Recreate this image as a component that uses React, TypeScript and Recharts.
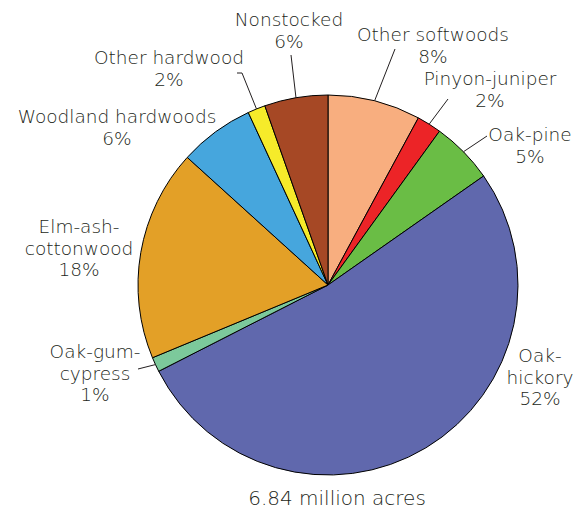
import React from "react"
import { PieChart, Pie, Cell } from "recharts"

// forest-type groups, clockwise from 12 o'clock
const groups = [
    "Other softwoods",
    "Pinyon-juniper",
    "Oak-pine",
    "Oak-hickory",
    "Oak-gum-cypress",
    "Elm-ash-cottonwood",
    "Woodland hardwoods",
    "Other hardwood",
    "Nonstocked",
]
const shares = [7.9, 2.1, 5.3, 52.3, 1.25, 18.0, 6.4, 1.5, 5.4]
const shareLabels = ["8%", "2%", "5%", "52%", "1%", "18%", "6%", "2%", "6%"]
const labelLines = [
    ["Other softwoods"],
    ["Pinyon-juniper"],
    ["Oak-pine"],
    ["Oak-", "hickory"],
    ["Oak-gum-", "cypress"],
    ["Elm-ash-", "cottonwood"],
    ["Woodland hardwoods"],
    ["Other hardwood"],
    ["Nonstocked"],
]
const colors = ["#F8AE7F", "#EC2427", "#6ABD45", "#6068AD", "#7CC99B", "#E3A027", "#46A6DD", "#F6EB2A", "#A64825"]
const totalLabel = "6.84 million acres"

// where each label sits (text centre, first baseline) and where its leader ends
const labelLayout: { x: number; y: number; leader?: [number, number][] }[] = [
    { x: 433, y: 41, leader: [[395, 49]] },
    { x: 490, y: 85, leader: [[448, 99]] },
    { x: 530, y: 141, leader: [[487, 136]] },
    { x: 540, y: 362 },
    { x: 95, y: 358, leader: [[138, 369]] },
    { x: 79, y: 233 },
    { x: 117, y: 123 },
    { x: 169, y: 64, leader: [[242, 73], [237, 73]] },
    { x: 289, y: 26, leader: [[291, 55]] },
]

const data = groups.map((name, i) => ({ name, value: shares[i] }))

const FONT = "'DejaVu Sans', sans-serif"
const TEXT = "#231F20"
const LINE_H = 21.5
const RAD = Math.PI / 180

const renderLabel = (props: any) => {
    const { cx, cy, midAngle, outerRadius, index } = props
    const layout = labelLayout[index]
    const lines = [...labelLines[index], shareLabels[index]]
    let leader = null
    if (layout.leader) {
        const sx = cx + outerRadius * Math.cos(-midAngle * RAD)
        const sy = cy + outerRadius * Math.sin(-midAngle * RAD)
        const pts = [[sx, sy], ...layout.leader].map((p) => p.join(",")).join(" ")
        leader = <polyline points={pts} fill="none" stroke={TEXT} strokeWidth={1} />
    }
    return (
        <g key={`lbl-${index}`}>
            {leader}
            <text x={layout.x} y={layout.y} textAnchor="middle" fill={TEXT} fontFamily={FONT} fontSize={18.5} fontWeight={200}>
                {lines.map((t, j) => (
                    <tspan key={j} x={layout.x} dy={j === 0 ? 0 : LINE_H}>
                        {t}
                    </tspan>
                ))}
            </text>
        </g>
    )
}

export default function App() {
    return (
        <div style={{ position: "absolute", left: 0, top: 0, width: 582, height: 509, background: "#fff" }}>
            <PieChart width={582} height={509} margin={{ top: 0, right: 0, bottom: 0, left: 0 }}>
                <Pie
                    data={data}
                    dataKey="value"
                    nameKey="name"
                    cx={328}
                    cy={285}
                    outerRadius={190}
                    startAngle={90}
                    endAngle={-270}
                    label={renderLabel}
                    labelLine={false}
                    isAnimationActive={false}
                >
                    {data.map((d, i) => (
                        <Cell key={d.name} fill={colors[i]} stroke="#000" strokeWidth={1} />
                    ))}
                </Pie>
                <text x={337} y={505} textAnchor="middle" fill={TEXT} fontFamily={FONT} fontSize={20} fontWeight={200}>
                    {totalLabel}
                </text>
            </PieChart>
        </div>
    )
}
